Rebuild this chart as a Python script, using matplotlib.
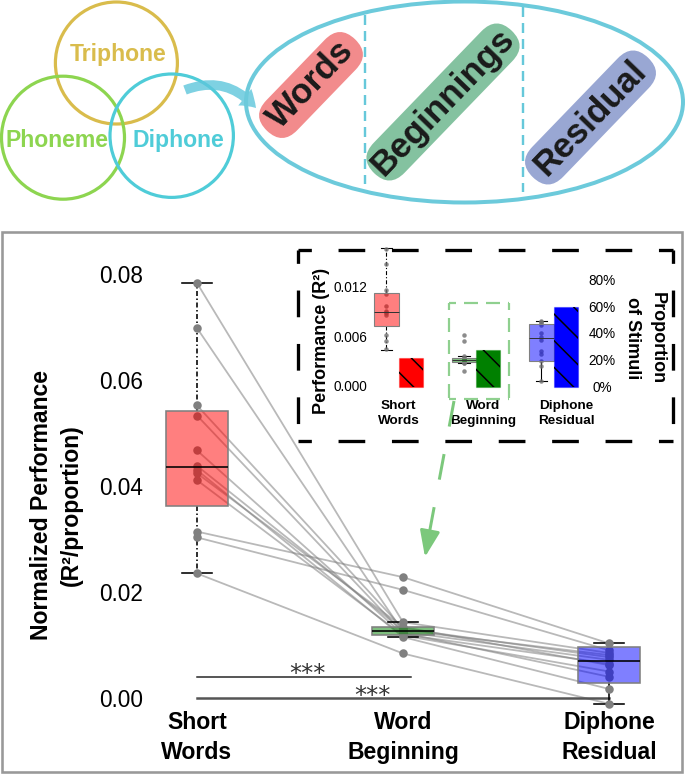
import numpy as np
import matplotlib
matplotlib.use("Agg")
import matplotlib.pyplot as plt
from matplotlib.patches import Circle, Ellipse, FancyBboxPatch, FancyArrowPatch, Rectangle
from matplotlib.transforms import Affine2D
from matplotlib.colors import to_rgba

# ---------------- data ----------------
categories = ["Short\nWords", "Word\nBeginning", "Diphone\nResidual"]
# per-subject normalized performance (R^2 / proportion)
short_words      = [0.0783, 0.0698, 0.0552, 0.0533, 0.0467, 0.0438, 0.0430, 0.0424, 0.0411, 0.0314, 0.0303, 0.0235]
word_beginning   = [0.0143, 0.0125, 0.0131, 0.0123, 0.0120, 0.0128, 0.0115, 0.0134, 0.0118, 0.0228, 0.0204, 0.0084]
diphone_residual = [0.0085, 0.0072, 0.0077, 0.0040, 0.0065, 0.0081, 0.0017, 0.0062, 0.0050, 0.0103, 0.0090, -0.0011]
# box statistics
box_q1   = [0.0363, 0.0119, 0.0028]
box_med  = [0.0436, 0.0127, 0.0070]
box_q3   = [0.0542, 0.01345, 0.0097]
whisk_lo = [0.0235, 0.0115, -0.0011]
whisk_hi = [0.0783, 0.0143, 0.0103]
yticks = [0.00, 0.02, 0.04, 0.06, 0.08]
sig_pairs = [(0, 1.04), (0, 2)]
sig_levels = [0.0039, 0.0]
sig_labels = ["***", "***"]
sig_text_x = [0.534, 0.852]
sig_text_y = [0.0033, -0.0010]

# inset: raw performance (R^2) and proportion of stimuli
inset_sw = [0.0166, 0.0147, 0.0116, 0.0111, 0.0097, 0.0091, 0.0089, 0.0088, 0.0086, 0.0062, 0.0054, 0.0044]
inset_wb = [0.0062, 0.0054, 0.0036, 0.0034, 0.0033, 0.0032, 0.0031, 0.0030, 0.0029, 0.0028, 0.0027, 0.0018]
inset_dr = [0.0078, 0.0077, 0.0076, 0.0073, 0.0064, 0.0059, 0.0055, 0.0042, 0.0039, 0.0030, 0.0024, 0.0006]
in_q1  = [0.00724, 0.00283, 0.00303]
in_med = [0.0089, 0.0031, 0.00574]
in_q3  = [0.0112, 0.0034, 0.00744]
in_lo  = [0.00433, 0.0027, 0.00057]
in_hi  = [0.01665, 0.00364, 0.00784]
proportion = [0.212, 0.274, 0.597]
inset_yticks = [0.0, 0.006, 0.012]
inset_pticks = [0.0, 0.2, 0.4, 0.6, 0.8]
inset_label_x = [0.0, 1.09, 2.17]

venn_labels = ["Triphone", "Phoneme", "Diphone"]
pill_labels = ["Words", "Beginnings", "Residual"]

# ---------------- styling ----------------
DPI = 160
W, H = 685, 774
def pt(px):
    return px * 72.0 / DPI

plt.rcParams['font.family'] = ['Liberation Sans', 'DejaVu Sans']
plt.rcParams['lines.scale_dashes'] = False
plt.rcParams['hatch.linewidth'] = pt(1.5)

box_colors = ['#FF0000', '#008000', '#0000FF']

fig = plt.figure(figsize=(W / DPI, H / DPI), dpi=DPI)

def axes_px(l, t, r, b):
    return fig.add_axes([l / W, 1 - b / H, (r - l) / W, (b - t) / H])

# ---------------- main axes ----------------
L, T, R, B = 150, 250, 665, 708
X0, XS = 197, 206
Y0, YS = 698, 5300
ax = axes_px(L, T, R, B)
ax.set_xlim((L - X0) / XS, (R - X0) / XS)
ax.set_ylim((Y0 - B) / YS, (Y0 - T) / YS)
for s in ax.spines.values():
    s.set_visible(False)
ax.patch.set_alpha(0)

x = np.arange(3)
data = np.array([short_words, word_beginning, diphone_residual])
for j in range(data.shape[1]):
    ax.plot(x, data[:, j], color='#808080', alpha=0.55, lw=pt(1.8), zorder=1, clip_on=False)
for i in range(3):
    ax.scatter(np.full(data.shape[1], x[i]), data[i], s=pt(8.5) ** 2, color='#808080',
               lw=0, zorder=2, clip_on=False)

stats = [dict(q1=box_q1[i], med=box_med[i], q3=box_q3[i], whislo=whisk_lo[i],
              whishi=whisk_hi[i], fliers=[]) for i in range(3)]
bp = ax.bxp(stats, positions=x, widths=0.3, patch_artist=True, showfliers=False,
            capwidths=0.15, manage_ticks=False, zorder=3,
            boxprops=dict(edgecolor='#808080', lw=pt(1.6)),
            medianprops=dict(color='black', lw=pt(1.6)),
            whiskerprops=dict(color='black', lw=pt(1.6)),
            capprops=dict(color='black', lw=pt(1.6)))
for patch, c in zip(bp['boxes'], box_colors):
    patch.set_facecolor(to_rgba(c, 0.5))
for a in bp['whiskers'] + bp['caps']:
    a.set_zorder(1.8)
for a in bp['whiskers'][:2]:
    a.set_linestyle((0, (pt(5), pt(2.5), pt(1.5), pt(2.5))))
for k in bp:
    for a in bp[k]:
        a.set_clip_on(False)

ax.set_xticks(x)
ax.set_xticklabels(categories, fontsize=pt(23), fontweight='bold', linespacing=1.375)
ax.tick_params(axis='x', length=0, pad=pt(3))
ax.set_yticks(yticks)
ax.set_yticklabels([f"{v:.2f}" for v in yticks], fontsize=pt(22.5))
ax.tick_params(axis='y', length=0, pad=pt(7))

fig.text(56 / W, 1 - 505 / H, "Normalized Performance\n(R\u00b2/proportion)", rotation=90,
         ha='center', va='center', fontsize=pt(23), fontweight='bold', linespacing=1.38,
         multialignment='center')

sig_colors = ['#222222', '#555555']
sig_lw = [pt(1.5), pt(2.5)]
for (a0, a1), yv, lab, tx, ty, sc, slw in zip(sig_pairs, sig_levels, sig_labels, sig_text_x,
                                              sig_text_y, sig_colors, sig_lw):
    ax.plot([a0, a1], [yv, yv], color=sc, lw=slw, zorder=1.5, clip_on=False)
    ax.text(tx, ty, lab, ha='center', va='baseline', fontsize=pt(24),
            family='DejaVu Sans', color='#333333')

# ---------------- inset ----------------
IL, IT, IR, IB = 372, 246, 582, 392
IX0, IXS = 398.5, 77.5
IY0, IYS = 385.7, 8250.0
PY0, PYS = 386.7, 134.25
iax = axes_px(IL, IT, IR, IB)
iax.set_xlim((IL - IX0) / IXS, (IR - IX0) / IXS)
iax.set_ylim((IY0 - IB) / IYS, (IY0 - IT) / IYS)
iax2 = iax.twinx()
iax2.set_ylim((PY0 - IB) / PYS, (PY0 - IT) / PYS)
for a in (iax, iax2):
    for s in a.spines.values():
        s.set_visible(False)
    a.patch.set_alpha(0)

idata = [inset_sw, inset_wb, inset_dr]
for i in range(3):
    iax.scatter(np.full(len(idata[i]), x[i] - 0.155), idata[i], s=pt(4.5) ** 2,
                color='#707070', alpha=0.8, lw=0, zorder=2, clip_on=False)
istats = [dict(q1=in_q1[i], med=in_med[i], q3=in_q3[i], whislo=in_lo[i],
               whishi=in_hi[i], fliers=[]) for i in range(3)]
ibp = iax.bxp(istats, positions=x - 0.155, widths=0.31, patch_artist=True, showfliers=False,
              capwidths=0.15, manage_ticks=False, zorder=3,
              boxprops=dict(edgecolor='#808080', lw=pt(1.1)),
              medianprops=dict(color='#333333', lw=pt(1.0)),
              whiskerprops=dict(color='black', lw=pt(1.1)),
              capprops=dict(color='black', lw=pt(1.1)))
for patch, c in zip(ibp['boxes'], box_colors):
    patch.set_facecolor(to_rgba(c, 0.5))
for a in ibp['whiskers'] + ibp['caps']:
    a.set_zorder(1.8)
for a in ibp['whiskers'][:2]:
    a.set_linestyle((0, (pt(4), pt(2), pt(1.2), pt(2))))
for k in ibp:
    for a in ibp[k]:
        a.set_clip_on(False)

iax2.bar(x + 0.155, proportion, width=0.31, color=box_colors,
         edgecolor=[to_rgba(c, 0.35) for c in box_colors], lw=pt(1.2), zorder=2)
iax2.bar(x + 0.155, proportion, width=0.31, facecolor='none', edgecolor='black',
         lw=0, hatch='\\\\', zorder=3)

iax.set_xticks(inset_label_x)
iax.set_xticklabels(categories, fontsize=pt(13.5), fontweight='bold', linespacing=1.29)
iax.tick_params(axis='x', length=0, pad=pt(8))
iax.set_yticks(inset_yticks)
iax.set_yticklabels([f"{v:.3f}" for v in inset_yticks], fontsize=pt(13.6))
iax.tick_params(axis='y', length=0, pad=pt(4.5))
iax2.set_yticks(inset_pticks)
iax2.set_yticklabels([f"{int(round(v * 100))}%" for v in inset_pticks], fontsize=pt(13.6))
iax2.tick_params(axis='y', length=0, pad=pt(20))
for lbl in iax2.get_yticklabels():
    lbl.set_horizontalalignment('center')

fig.text(321.5 / W, 1 - 341 / H, "Performance (R\u00b2)", rotation=90, ha='center', va='center',
         fontsize=pt(18), fontweight='bold')
fig.text(645 / W, 1 - 338 / H, "Proportion\nof Stimuli", rotation=270, ha='center', va='center',
         fontsize=pt(18), fontweight='bold', linespacing=1.6, multialignment='center')

# ---------------- overlay (diagram, frames, arrows) ----------------
ov = fig.add_axes([0, 0, 1, 1])
ov.set_xlim(0, W)
ov.set_ylim(H, 0)
ov.set_axis_off()
ov.patch.set_visible(False)
ov.set_zorder(5)

# gray panel border
ov.add_patch(Rectangle((2.5, 232), 679.5, 539.5, fill=False, ec='#999999', lw=pt(2.6)))

def dashed_edge(p0, p1, color, lw, on, off):
    ov.plot([p0[0], p1[0]], [p0[1], p1[1]], color=color, lw=lw,
            linestyle=(pt(on) / 2, (pt(on), pt(off))), solid_capstyle='butt',
            dash_capstyle='butt')

# black dashed inset frame
fx0, fy0, fx1, fy1 = 298.3, 250, 673.3, 440.7
for p0, p1 in [((fx0, fy0), (fx1, fy0)), ((fx0, fy0), (fx0, fy1)),
               ((fx1, fy0), (fx1, fy1)), ((fx0, fy1), (fx1, fy1))]:
    dashed_edge(p0, p1, 'black', pt(3.3), 26.7, 26.7)

# green dashed frame around word-beginning inset group
gx0, gy0, gx1, gy1 = 449.3, 303.3, 509, 399
for p0, p1 in [((gx0, gy0), (gx1, gy0)), ((gx0, gy0), (gx0, gy1)),
               ((gx1, gy0), (gx1, gy1)), ((gx0, gy1), (gx1, gy1))]:
    dashed_edge(p0, p1, '#8FD08F', pt(2.2), 14, 8)

# green dashed arrow
ov.plot([454, 428], [401, 540], color='#7CC87C', lw=pt(3),
        linestyle=(0, (pt(26), pt(28))), dash_capstyle='butt')
ov.add_patch(FancyArrowPatch((429.5, 533), (425, 557), mutation_scale=1,
                             arrowstyle='-|>,head_length=10,head_width=3.8',
                             color='#7CC87C', lw=pt(3), shrinkA=0, shrinkB=0))

# Venn circles
venn_centers = [(116.4, 63), (63, 137.7), (171.7, 135.7)]
venn_r = [61, 61.5, 61.7]
venn_colors = ['#D9BC4C', '#8DD550', '#4FCCD8']
venn_text = [(118, 61.5), (57, 146.7), (178, 146.7)]
for (cx, cy), r, c in zip(venn_centers, venn_r, venn_colors):
    ov.add_patch(Circle((cx, cy), r, fill=False, ec=c, lw=pt(3.2)))
for lab, (tx, ty), c in zip(venn_labels, venn_text, venn_colors):
    ov.text(tx, ty, lab, ha='center', va='baseline', color=c, fontsize=pt(23),
            fontweight='bold')

# curved arrow
ov.add_patch(FancyArrowPatch((185, 90), (256, 108), mutation_scale=1,
                             connectionstyle='arc3,rad=-0.35',
                             arrowstyle='simple,head_length=7,head_width=9.5,tail_width=4.3',
                             color='#5EC6DB', alpha=0.8, lw=0, shrinkA=0, shrinkB=0))

# big ellipse and separators
ov.add_patch(Ellipse((464.5, 102), 437, 201, fill=False, ec='#6CCADB', lw=pt(4)))
for xs, (ya, yb) in [(365, (15, 184)), (523.5, (7, 192))]:
    ov.plot([xs, xs], [ya, yb], color='#66C8DA', lw=pt(2.4),
            linestyle=(0, (pt(10), pt(6))), dash_capstyle='butt')

# pills
pill_geom = [(311, 85, 127), (443, 102, 198), (590.5, 117.5, 166)]
pill_colors = ['#F28B8C', '#84C2A0', '#99A7D3']
TP = 43
ANG = 46
for lab, (cx, cy, Lp), c in zip(pill_labels, pill_geom, pill_colors):
    p = FancyBboxPatch((cx - Lp / 2, cy - TP / 2), Lp, TP,
                       boxstyle=f"round,pad=0,rounding_size={TP / 2}",
                       fc=c, ec='none')
    p.set_transform(Affine2D().rotate_deg_around(cx, cy, -ANG) + ov.transData)
    ov.add_patch(p)
    ov.text(cx, cy, lab, rotation=ANG, rotation_mode='anchor', ha='center', va='center',
            fontsize=pt(35), fontweight='bold', color='#1a1a1a')

fig.savefig("out.png", dpi=DPI)
